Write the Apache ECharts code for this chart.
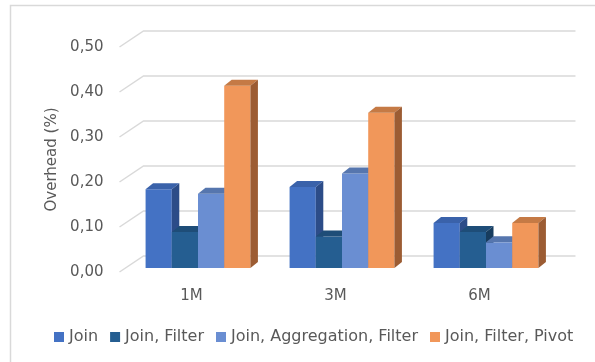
<!DOCTYPE html>
<html>
<head>
<meta charset="utf-8">
<style>
  html, body { margin: 0; padding: 0; background: #ffffff; }
  #chart { width: 595px; height: 362px; }
</style>
<script src="https://cdn.jsdelivr.net/npm/echarts@6/dist/echarts.min.js"></script>
</head>
<body>
<div id="chart"></div>
<script>
// Query overhead per dataset size
const categories = ['1M', '3M', '6M'];
const seriesNames = ['Join', 'Join, Filter', 'Join, Aggregation, Filter', 'Join, Filter, Pivot'];
const joinValues = [0.175, 0.18, 0.10];
const joinFilterValues = [0.08, 0.07, 0.08];
const joinAggFilterValues = [0.165, 0.21, 0.057];
const joinFilterPivotValues = [0.405, 0.345, 0.10];
const yTicks = [0, 0.1, 0.2, 0.3, 0.4, 0.5];

const seriesValues = [joinValues, joinFilterValues, joinAggFilterValues, joinFilterPivotValues];
const frontColors = ['#4472C4', '#255E91', '#6A8ED2', '#F1975A'];
const topColors   = ['#3A62AA', '#1E4D78', '#5676AE', '#C57A45'];
const sideColors  = ['#2C4C88', '#173C5E', '#47629A', '#9C5C33'];

const FONT = 'DejaVu Sans';
const TEXT_COLOR = '#595959';
const GRID_COLOR = '#D9D9D9';

// 3D look: back wall offset from the front plane, and bar depth
const WALL_DX = 24, WALL_DY = -16;
const BAR_SHIFT_X = 6.5, BAR_SHIFT_Y = -4;
const BAR_DEPTH_X = 7.5, BAR_DEPTH_Y = -6;
const BAR_FRACTION = 0.182;   // bar width as a share of the category band

function fmt(v) { return v.toFixed(2).replace('.', ','); }

// back wall gridlines with the slanted side segment
function renderWall(params, api) {
  const cs = params.coordSys;
  const p = api.coord([0, api.value(0)]);
  const y = p[1];
  return {
    type: 'polyline',
    shape: { points: [[cs.x, y], [cs.x + WALL_DX, y + WALL_DY], [cs.x + cs.width + WALL_DX, y + WALL_DY]] },
    style: { stroke: GRID_COLOR, lineWidth: 1.5, fill: null },
    silent: true
  };
}

function makeBarRenderer(si) {
  return function (params, api) {
    const cat = api.value(0);
    const v = api.value(1);
    const base = api.coord([cat, 0]);
    const top = api.coord([cat, v]);
    const band = api.size([1, 0])[0];
    const w = band * BAR_FRACTION;
    const x0 = base[0] + BAR_SHIFT_X + (si - 2) * w;
    const x1 = x0 + w;
    const yb = base[1] + BAR_SHIFT_Y;
    const yt = top[1] + BAR_SHIFT_Y;
    return {
      type: 'group',
      children: [
        { type: 'rect', shape: { x: x0, y: yt, width: w, height: yb - yt },
          style: { fill: frontColors[si] } },
        { type: 'polygon', shape: { points: [[x0, yt], [x0 + BAR_DEPTH_X, yt + BAR_DEPTH_Y], [x1 + BAR_DEPTH_X, yt + BAR_DEPTH_Y], [x1, yt]] },
          style: { fill: topColors[si] } },
        { type: 'polygon', shape: { points: [[x1, yt], [x1 + BAR_DEPTH_X, yt + BAR_DEPTH_Y], [x1 + BAR_DEPTH_X, yb + BAR_DEPTH_Y], [x1, yb]] },
          style: { fill: sideColors[si] } }
      ]
    };
  };
}

const series = [{
  type: 'custom',
  name: '__wall',
  data: yTicks.map(t => [t]),
  renderItem: renderWall,
  silent: true,
  z: 1,
  encode: { y: 0 }
}];

seriesNames.forEach((name, si) => {
  series.push({
    type: 'custom',
    name: name,
    data: seriesValues[si].map((v, i) => [i, v]),
    encode: { x: 0, y: 1 },
    renderItem: makeBarRenderer(si),
    itemStyle: { color: frontColors[si] },
    z: 2
  });
});

const chart = echarts.init(document.getElementById('chart'), null, { renderer: 'canvas' });
chart.setOption({
  backgroundColor: '#ffffff',
  animation: false,
  grid: { left: 119.5, right: 43.5, top: 47, bottom: 90 },
  xAxis: {
    type: 'category',
    data: categories,
    axisLine: { show: false },
    axisTick: { show: false },
    splitLine: { show: false },
    axisLabel: { color: TEXT_COLOR, fontFamily: FONT, fontSize: 15, margin: 17 }
  },
  yAxis: {
    type: 'value',
    min: 0,
    max: 0.5,
    interval: 0.1,
    name: 'Overhead (%)',
    nameLocation: 'middle',
    nameGap: 56,
    nameTextStyle: { color: TEXT_COLOR, fontFamily: FONT, fontSize: 15 },
    axisLine: { show: false },
    axisTick: { show: false },
    splitLine: { show: false },
    axisLabel: { color: TEXT_COLOR, fontFamily: FONT, fontSize: 15, margin: 16, formatter: fmt }
  },
  legend: {
    data: seriesNames,
    left: 49,
    top: 324,
    icon: 'rect',
    itemWidth: 10,
    itemHeight: 10,
    itemGap: 12,
    textStyle: { color: TEXT_COLOR, fontFamily: FONT, fontSize: 16 }
  },
  graphic: [{
    type: 'polyline',
    shape: { points: [[10.5, 362], [10.5, 5.5], [595, 5.5]] },
    style: { stroke: GRID_COLOR, lineWidth: 1.5, fill: null },
    silent: true
  }],
  series: series
});
</script>
</body>
</html>
